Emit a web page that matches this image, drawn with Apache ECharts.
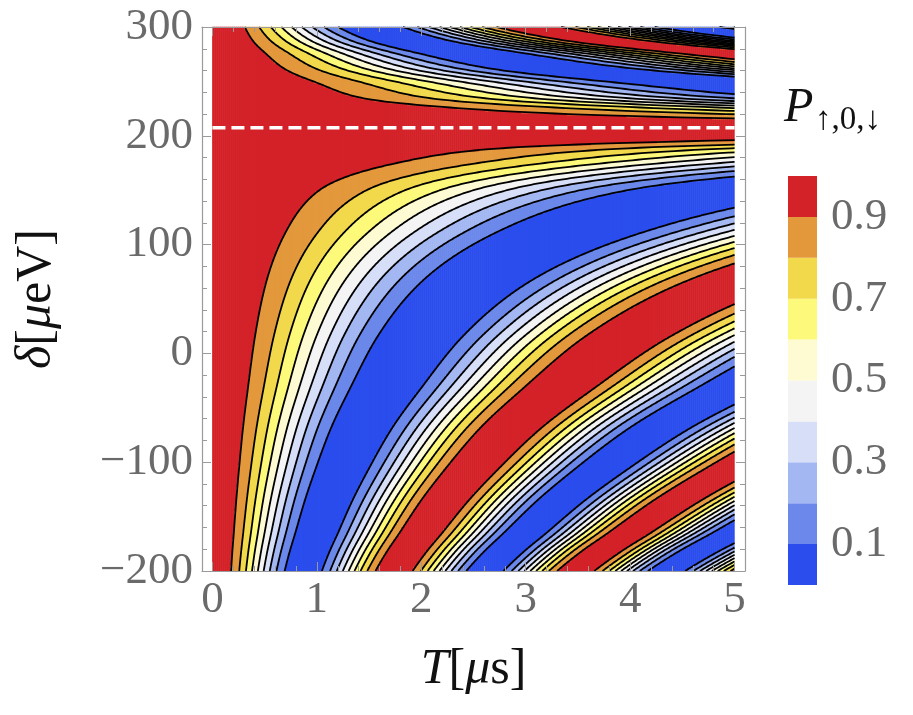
<!DOCTYPE html>
<html>
<head>
<meta charset="utf-8">
<script src="https://cdn.jsdelivr.net/npm/echarts@6/dist/echarts.min.js"></script>
<style>
  html, body { margin: 0; padding: 0; background: #fff; }
  #chart { width: 913px; height: 715px; }
</style>
</head>
<body>
<div id="chart"></div>
<script>
// detuning rows (μeV) and the oscillation rate at each row (cycles per μs)
var deltaRows = [-200, -182, -164.5, -135, -104.5, -70, -30.7, 15, 64.5, 108, 150, 175, 187, 196, 207.5,
                 216, 226, 235, 249, 262, 275.5, 288, 300];
var rateRows  = [0.575, 0.537, 0.5, 0.449, 0.4, 0.352, 0.3, 0.252, 0.2, 0.15, 0.1, 0.058, 0.04, 0.0205, 0,
                 0.0205, 0.045, 0.072, 0.103, 0.15, 0.2, 0.268, 0.33];
var sweetSpot = 207.5;          // dashed line
var contourLevels = [0.1, 0.2, 0.3, 0.4, 0.5, 0.6, 0.7, 0.8, 0.9];
// band colours from 0-0.1 up to 0.9-1
var bandColors = ['#2b4ded', '#6b88ea', '#a3b7f2', '#d6def8', '#f3f4f3', '#fefbd3', '#fdf97a', '#f2d94c', '#e3983c', '#d42229'];
var tTicks = [0, 1, 2, 3, 4, 5];

var FONT = 'Liberation Serif';
var GRAY = '#6a6a6a';
var FRAME = '#9a9a9a';

function monotoneSpline(xs, ys) {
    var n = xs.length, d = [], m = [];
    for (var i = 0; i < n - 1; i++) d.push((ys[i + 1] - ys[i]) / (xs[i + 1] - xs[i]));
    m[0] = d[0];
    m[n - 1] = d[n - 2];
    for (var i = 1; i < n - 1; i++) {
        m[i] = d[i - 1] * d[i] <= 0 ? 0 : 2 * d[i - 1] * d[i] / (d[i - 1] + d[i]);
    }
    return function (x) {
        var k = 0;
        while (k < n - 2 && x > xs[k + 1]) k++;
        var h = xs[k + 1] - xs[k], t = (x - xs[k]) / h, t2 = t * t, t3 = t2 * t;
        return (2 * t3 - 3 * t2 + 1) * ys[k] + (t3 - 2 * t2 + t) * h * m[k] +
            (-2 * t3 + 3 * t2) * ys[k + 1] + (t3 - t2) * h * m[k + 1];
    };
}

// split at the zero of the rate so each side stays monotone
var iz = rateRows.indexOf(0);
var lowerRate = monotoneSpline(deltaRows.slice(0, iz + 1), rateRows.slice(0, iz + 1));
var upperRate = monotoneSpline(deltaRows.slice(iz), rateRows.slice(iz));
var zeroAt = deltaRows[iz];
function rateAt(d) {
    return Math.max(0, d < zeroAt ? lowerRate(d) : upperRate(d));
}

// heatmap cells
var NX = 262, NY = 272;
var xCats = [], yCats = [], cells = [];
for (var i = 0; i < NX; i++) xCats.push(i);
for (var j = 0; j < NY; j++) yCats.push(j);
for (var j = 0; j < NY; j++) {
    var d = -200 + (j + 0.5) * 500 / NY;
    var r = rateAt(d);
    for (var i = 0; i < NX; i++) {
        var t = (i + 0.5) * 5 / NX;
        var c = Math.cos(Math.PI * r * t);
        cells.push([i, j, c * c]);
    }
}

// contour lines: P = c where rate*T = n +/- acos(sqrt(c))/pi
function contourSegments(m) {
    var segs = [], cur = null, prev = null;
    for (var d = -200; d <= 300.0001; d += 0.5) {
        var r = rateAt(d), t = r > 0 ? m / r : Infinity;
        if (t <= 5) {
            if (!cur) {
                cur = [];
                if (prev) {
                    var de = isFinite(prev.t) ? prev.d + (d - prev.d) * (5 - prev.t) / (t - prev.t) : d;
                    cur.push([5, de]);
                }
            }
            cur.push([t, d]);
        } else if (cur) {
            var de2 = isFinite(t) ? prev.d + (d - prev.d) * (5 - prev.t) / (t - prev.t) : prev.d;
            cur.push([5, de2]);
            segs.push(cur);
            cur = null;
        }
        prev = {d: d, t: t};
    }
    if (cur) segs.push(cur);
    return segs;
}
var contourData = [];
contourLevels.forEach(function (c) {
    var a = Math.acos(Math.sqrt(c)) / Math.PI;
    for (var n = 0; n <= 4; n++) {
        var ms = n > 0 ? [n - a, n + a] : [a];
        ms.forEach(function (m) {
            contourSegments(m).forEach(function (s) {
                if (s.length > 1) contourData.push({coords: s});
            });
        });
    }
});

var minorT = [];
for (var k = 1; k < 25; k++) if (k % 5 !== 0) minorT.push(k / 5);

var chart = echarts.init(document.getElementById('chart'));

var cbSeries = bandColors.map(function (col) {
    return {
        type: 'bar', xAxisIndex: 5, yAxisIndex: 3, stack: 'cb', data: [0.1],
        barWidth: '100%', silent: true, itemStyle: {color: col}
    };
});

function frameX(pos, ticks, len, withLine) {
    return {
        gridIndex: 0, type: 'value', position: pos, min: -0.1, max: 5.1, z: 10,
        axisLine: {show: withLine, onZero: false, lineStyle: {color: FRAME, width: 1.2}},
        axisTick: {inside: true, length: len, customValues: ticks, lineStyle: {color: FRAME}},
        axisLabel: {show: false}, splitLine: {show: false}
    };
}

var option = {
    animation: false,
    backgroundColor: '#fff',
    textStyle: {fontFamily: FONT},
    grid: [
        {left: 202, right: 168, top: 27, bottom: 144},
        {left: 212.4, right: 178.6, top: 27, bottom: 144},
        {left: 788, width: 29, top: 176, height: 409}
    ],
    xAxis: [
        {
            gridIndex: 0, type: 'value', position: 'bottom', min: -0.1, max: 5.1, z: 10,
            axisLine: {onZero: false, lineStyle: {color: FRAME, width: 1.2}},
            axisTick: {inside: true, length: 9, customValues: tTicks, lineStyle: {color: FRAME}},
            axisLabel: {customValues: tTicks, fontSize: 45, color: GRAY, fontFamily: FONT, margin: 7},
            splitLine: {show: false},
            name: '{i|T}[{i|μ}s]', nameLocation: 'middle', nameGap: 74,
            nameTextStyle: {fontSize: 50, color: '#111', fontFamily: FONT,
                rich: {i: {fontSize: 50, fontStyle: 'italic', color: '#111', fontFamily: FONT}}}
        },
        frameX('bottom', minorT, 5, false),
        frameX('top', tTicks, 9, true),
        frameX('top', minorT, 5, false),
        {gridIndex: 1, type: 'category', data: xCats, show: false},
        {gridIndex: 2, type: 'category', data: ['P'], show: false}
    ],
    yAxis: [
        {
            gridIndex: 0, type: 'value', position: 'left', min: -200, max: 300, interval: 100, z: 10,
            axisLine: {show: true, onZero: false, lineStyle: {color: FRAME, width: 1.2}},
            axisTick: {show: true, inside: true, length: 9, lineStyle: {color: FRAME}},
            minorTick: {show: true, splitNumber: 5, length: 5, lineStyle: {color: FRAME}},
            axisLabel: {fontSize: 45, color: GRAY, fontFamily: FONT, margin: 9,
                formatter: function (v) { return v < 0 ? '\u2212' + (-v) : String(v); }},
            splitLine: {show: false},
            name: '{i|δ}[{i|μ}eV]', nameLocation: 'middle', nameGap: 140, nameRotate: 90,
            nameTextStyle: {fontSize: 50, color: '#111', fontFamily: FONT,
                rich: {i: {fontSize: 50, fontStyle: 'italic', color: '#111', fontFamily: FONT}}}
        },
        {
            gridIndex: 0, type: 'value', position: 'right', min: -200, max: 300, interval: 100, z: 10,
            axisLine: {show: true, onZero: false, lineStyle: {color: FRAME, width: 1.2}},
            axisTick: {show: true, inside: true, length: 9, lineStyle: {color: FRAME}},
            minorTick: {show: true, splitNumber: 5, length: 5, lineStyle: {color: FRAME}},
            axisLabel: {show: false}, splitLine: {show: false}
        },
        {gridIndex: 1, type: 'category', data: yCats, show: false},
        {
            gridIndex: 2, type: 'value', position: 'right', min: 0, max: 1, interval: 0.1,
            axisLine: {show: false}, axisTick: {show: false}, splitLine: {show: false},
            axisLabel: {fontSize: 45, color: GRAY, fontFamily: FONT, margin: 14,
                formatter: function (v) {
                    var s = Math.round(v * 10);
                    return s % 2 === 1 ? (s / 10).toFixed(1) : '';
                }}
        }
    ],
    visualMap: {
        type: 'piecewise', show: false, seriesIndex: 0, dimension: 2,
        pieces: bandColors.map(function (col, k) {
            return k === 9 ? {gte: 0.9, lte: 1.01, color: col} : {gte: k / 10, lt: (k + 1) / 10, color: col};
        })
    },
    graphic: [
        {type: 'text', left: 784, top: 84, z: 20,
            style: {text: 'P', font: 'italic 48px "Liberation Serif"', fill: '#111'}},
        {type: 'text', left: 815, top: 104, z: 20,
            style: {text: '↑,0,↓', font: '33px "Liberation Serif"', fill: '#111'}}
    ],
    series: [
        {
            type: 'heatmap', xAxisIndex: 4, yAxisIndex: 2, data: cells,
            progressive: 0, silent: true, itemStyle: {borderWidth: 0},
            emphasis: {disabled: true}
        },
        {
            type: 'lines', coordinateSystem: 'cartesian2d', xAxisIndex: 0, yAxisIndex: 0,
            polyline: true, clip: true, silent: true, z: 5,
            lineStyle: {color: '#000', width: 1.8, opacity: 1},
            data: contourData
        },
        {
            type: 'line', xAxisIndex: 0, yAxisIndex: 0, symbol: 'none', silent: true, z: 6,
            lineStyle: {color: '#fff', width: 3.5, type: [13, 6]},
            data: [[0, sweetSpot], [5, sweetSpot]]
        }
    ].concat(cbSeries)
};
chart.setOption(option);
</script>
</body>
</html>
